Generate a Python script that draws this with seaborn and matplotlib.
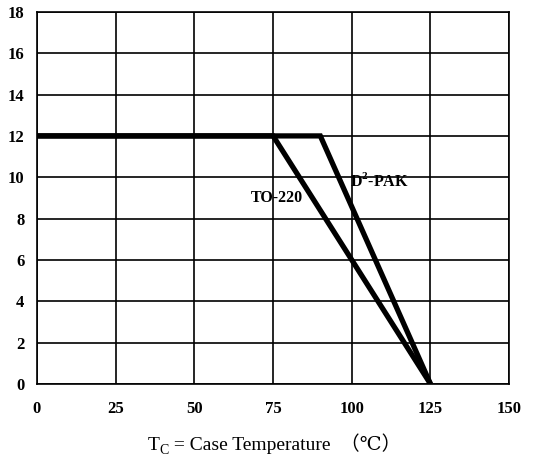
import matplotlib
matplotlib.use("Agg")
import matplotlib.pyplot as plt
import seaborn as sns
import pandas as pd

# Derating curves: maximum current vs case temperature
to220_temp = [0, 75, 125]
to220_current = [12, 12, 0]
d2pak_temp = [0, 90, 125]
d2pak_current = [12, 12, 0]

x_ticks = [0, 25, 50, 75, 100, 125, 150]
y_ticks = [0, 2, 4, 6, 8, 10, 12, 14, 16, 18]

sns.set_theme(style="white")
serif = ["Liberation Serif", "DejaVu Serif", "Noto Sans CJK SC"]
plt.rcParams["font.family"] = serif

df = pd.concat([
    pd.DataFrame({"temp": to220_temp, "current": to220_current, "pkg": "TO-220"}),
    pd.DataFrame({"temp": d2pak_temp, "current": d2pak_current, "pkg": "D2-PAK"}),
])

fig = plt.figure(figsize=(5.36, 4.75), dpi=100)
ax = fig.add_axes([0.069, 0.1916, 0.881, 0.7834])

for pkg, grp in df.groupby("pkg"):
    sns.lineplot(data=grp, x="temp", y="current", ax=ax, color="black",
                 linewidth=3.8, sort=False, estimator=None,
                 solid_joinstyle="miter", solid_capstyle="butt")

ax.set_xlim(0, 150)
ax.set_ylim(0, 18)
ax.set_xticks(x_ticks)
ax.set_yticks(y_ticks)
ax.set_xticklabels([str(v) for v in x_ticks], fontweight="bold", fontsize=12)
ax.set_yticklabels([str(v) for v in y_ticks], fontweight="bold", fontsize=12)
ax.tick_params(axis="x", length=0, pad=12, colors="black")
ax.tick_params(axis="y", length=0, pad=9, colors="black")
ax.grid(True, color="black", linewidth=1.2)
for s in ax.spines.values():
    s.set_color("black")
    s.set_linewidth(1.2)

ax.set_xlabel("")
ax.set_ylabel("")

ax.text(99.5, 9.8, "D$^{\\mathregular{2}}$-PAK", fontsize=11.5, fontweight="bold",
        ha="left", va="center", color="black")
ax.text(68, 9.0, "TO-220", fontsize=11.5, fontweight="bold",
        ha="left", va="center", color="black")

# Axis title built from pieces so the subscript and CJK brackets both render
fig.canvas.draw()
renderer = fig.canvas.get_renderer()
fig_w = fig.bbox.width
base_y = 0.052
x0 = 0.276
t1 = fig.text(x0, base_y, "T", ha="left", va="baseline", fontsize=14,
              color="black", family=serif)
w1 = t1.get_window_extent(renderer).width / fig_w
t2 = fig.text(x0 + w1, base_y - 0.008, "C", ha="left", va="baseline",
              fontsize=10, color="black", family=serif)
w2 = t2.get_window_extent(renderer).width / fig_w
fig.text(x0 + w1 + w2, base_y, " = Case Temperature  （℃）", ha="left",
         va="baseline", fontsize=14, color="black", family=serif)

fig.savefig("out.png", dpi=100)
